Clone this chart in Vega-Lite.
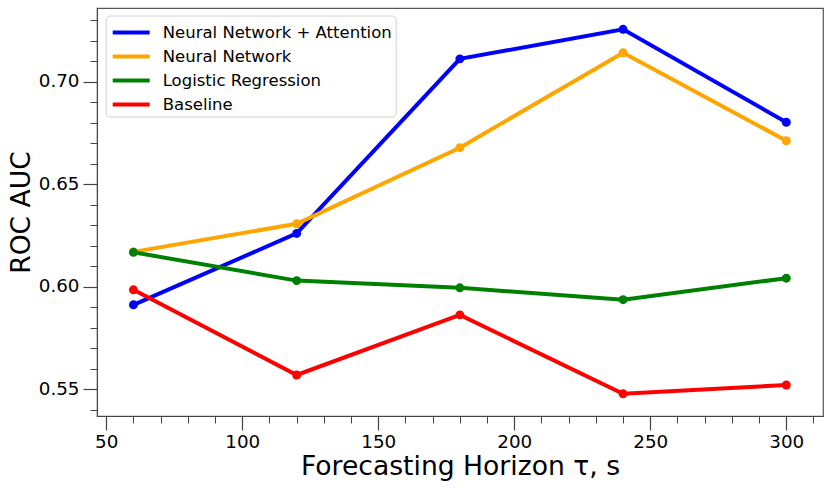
{
  "$schema": "https://vega.github.io/schema/vega-lite/v6.json",
  "width": 726,
  "height": 408,
  "autosize": "none",
  "padding": {"left": 97, "top": 8, "right": 8, "bottom": 76},
  "background": "white",
  "config": {
    "font": "DejaVu Sans",
    "view": {"stroke": "#555555", "strokeWidth": 1.2},
    "axis": {
      "domainColor": "#444444",
      "tickColor": "#444444",
      "grid": false,
      "labelFont": "DejaVu Sans",
      "titleFont": "DejaVu Sans",
      "labelColor": "black",
      "titleColor": "black",
      "titleFontWeight": "normal"
    }
  },
  "data": {
    "values": [
      {"model": "Neural Network + Attention", "tau": 60, "auc": 0.5912},
      {"model": "Neural Network + Attention", "tau": 120, "auc": 0.6260},
      {"model": "Neural Network + Attention", "tau": 180, "auc": 0.7111},
      {"model": "Neural Network + Attention", "tau": 240, "auc": 0.7255},
      {"model": "Neural Network + Attention", "tau": 300, "auc": 0.6802},
      {"model": "Neural Network", "tau": 60, "auc": 0.6170},
      {"model": "Neural Network", "tau": 120, "auc": 0.6307},
      {"model": "Neural Network", "tau": 180, "auc": 0.6678},
      {"model": "Neural Network", "tau": 240, "auc": 0.7141},
      {"model": "Neural Network", "tau": 300, "auc": 0.6712},
      {"model": "Logistic Regression", "tau": 60, "auc": 0.6168},
      {"model": "Logistic Regression", "tau": 120, "auc": 0.6030},
      {"model": "Logistic Regression", "tau": 180, "auc": 0.5995},
      {"model": "Logistic Regression", "tau": 240, "auc": 0.5937},
      {"model": "Logistic Regression", "tau": 300, "auc": 0.6042},
      {"model": "Baseline", "tau": 60, "auc": 0.5985},
      {"model": "Baseline", "tau": 120, "auc": 0.5570},
      {"model": "Baseline", "tau": 180, "auc": 0.5863},
      {"model": "Baseline", "tau": 240, "auc": 0.5478},
      {"model": "Baseline", "tau": 300, "auc": 0.5521}
    ]
  },
  "layer": [
    {
      "mark": {"type": "line", "strokeWidth": 4},
      "encoding": {
        "x": {
          "field": "tau",
          "type": "quantitative",
          "scale": {"domain": [46.6, 313.5], "nice": false, "zero": false},
          "axis": {
            "orient": "bottom",
            "values": [50, 100, 150, 200, 250, 300],
            "tickSize": 14,
            "tickWidth": 1.2,
            "labelFontSize": 18.3,
            "labelPadding": 3,
            "title": "Forecasting Horizon τ, s",
            "titleFontSize": 26.6,
            "titlePadding": 3
          }
        },
        "y": {
          "field": "auc",
          "type": "quantitative",
          "scale": {"domain": [0.537, 0.7359], "nice": false, "zero": false},
          "axis": {
            "orient": "left",
            "values": [0.55, 0.6, 0.65, 0.7],
            "format": ".2f",
            "tickSize": 14,
            "tickWidth": 1.2,
            "labelFontSize": 18.3,
            "labelPadding": 4,
            "title": "ROC AUC",
            "titleFontSize": 26.6,
            "titlePadding": 3
          }
        },
        "color": {
          "field": "model",
          "type": "nominal",
          "scale": {
            "domain": ["Neural Network + Attention", "Neural Network", "Logistic Regression", "Baseline"],
            "range": ["#0000ff", "#ffa500", "#008000", "#ff0000"]
          },
          "legend": {
            "title": null,
            "orient": "none",
            "legendX": 8.7,
            "legendY": 7.5,
            "symbolType": "M-0.833,0H2.25",
            "symbolSize": 576,
            "symbolStrokeWidth": 4,
            "symbolFillColor": "transparent",
            "labelFontSize": 16.5,
            "labelFont": "DejaVu Sans",
            "labelLimit": 400,
            "labelOffset": 26,
            "rowPadding": 1,
            "padding": 3,
            "fillColor": "white",
            "strokeColor": "#d0d0d0",
            "cornerRadius": 4
          }
        }
      }
    },
    {
      "mark": {"type": "circle", "size": 80, "opacity": 1},
      "encoding": {
        "x": {
          "field": "tau",
          "type": "quantitative",
          "scale": {"domain": [46.6, 313.5], "nice": false, "zero": false},
          "axis": {
            "orient": "bottom",
            "values": [60, 70, 80, 90, 110, 120, 130, 140, 160, 170, 180, 190, 210, 220, 230, 240, 260, 270, 280, 290, 310],
            "tickSize": 7,
            "tickWidth": 1,
            "labels": false,
            "domain": false,
            "title": null
          }
        },
        "y": {
          "field": "auc",
          "type": "quantitative",
          "scale": {"domain": [0.537, 0.7359], "nice": false, "zero": false},
          "axis": {
            "orient": "left",
            "values": [0.54, 0.56, 0.57, 0.58, 0.59, 0.61, 0.62, 0.63, 0.64, 0.66, 0.67, 0.68, 0.69, 0.71, 0.72, 0.73],
            "tickSize": 7,
            "tickWidth": 1,
            "labels": false,
            "domain": false,
            "title": null
          }
        },
        "color": {"field": "model", "type": "nominal", "legend": null}
      }
    }
  ],
  "resolve": {"axis": {"x": "independent", "y": "independent"}}
}
